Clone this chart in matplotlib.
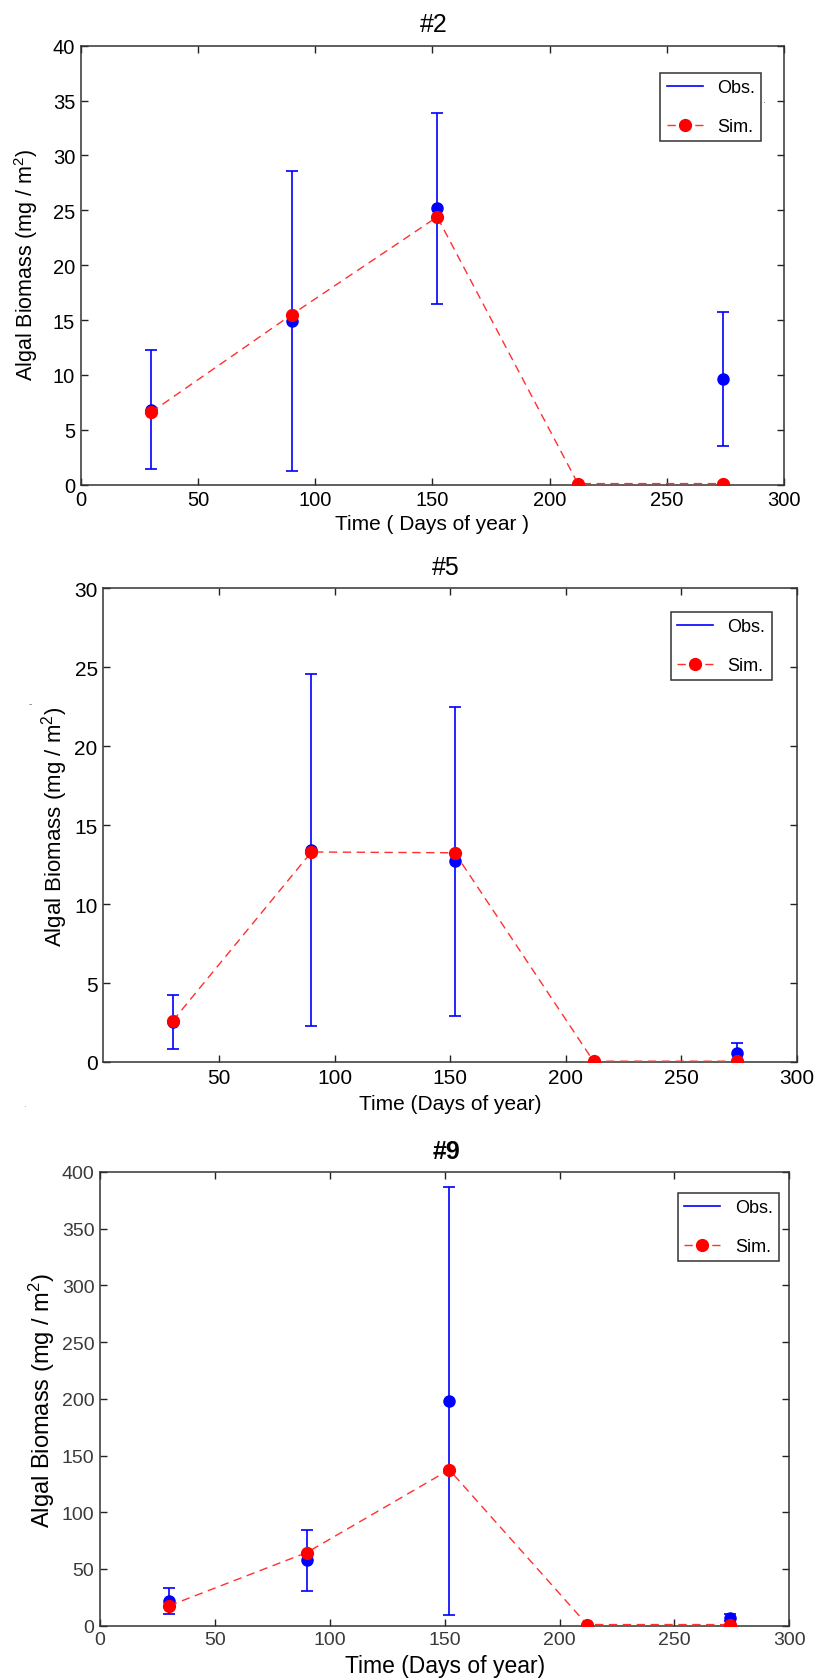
import numpy as np
import matplotlib
matplotlib.use("Agg")
import matplotlib.pyplot as plt
from matplotlib.lines import Line2D

plt.rcParams['font.family'] = ['Liberation Sans', 'DejaVu Sans']
plt.rcParams['mathtext.fontset'] = 'custom'
plt.rcParams['mathtext.rm'] = 'Liberation Sans'
plt.rcParams['mathtext.it'] = 'Liberation Sans:italic'

# ---- data ----
days_obs = [30, 90, 152, 274]
days_sim = [30, 90, 152, 212, 274]

p2_obs = [6.85, 14.9, 25.2, 9.6]
p2_err = [5.4, 13.65, 8.7, 6.1]
p2_sim = [6.6, 15.5, 24.4, 0.1, 0.1]

p5_obs = [2.55, 13.45, 12.7, 0.55]
p5_err = [1.7, 11.15, 9.8, 0.68]
p5_sim = [2.6, 13.3, 13.25, 0.05, 0.05]

p9_obs = [22.0, 57.5, 198.0, 7.0]
p9_err = [11.5, 26.5, 188.5, 3.0]
p9_sim = [17.5, 64.5, 137.5, 1.0, 1.0]

titles = ['#2', '#5', '#9']
xlabels = ['Time ( Days of year )', 'Time (Days of year)', 'Time (Days of year)']
ylabel = 'Algal Biomass (mg / m$^2$)'
legend_labels = ['Obs.', 'Sim.']

W, H = 817, 1681
fig = plt.figure(figsize=(W / 100, H / 100), dpi=100)

def fx(px):
    return px / W

def fy(py):
    return 1 - py / H

panels = [
    dict(box=(80.7, 46.7, 784.3, 485.7), obs=p2_obs, err=p2_err, sim=p2_sim,
         ylim=(0, 40), yticks=np.arange(0, 41, 5), xticks=np.arange(0, 301, 50),
         title_xy=(434, 25), title_bold=False, title_fs=18,
         xl_xy=(432, 525), xl_fs=15, yl_xy=(26, 265), yl_fs=15.5,
         tick_fs=14.5, tick_color='black',
         leg=(0.9673, 0.9378)),
    dict(box=(103.3, 589.3, 797.0, 1063.0), obs=p5_obs, err=p5_err, sim=p5_sim,
         ylim=(0, 30), yticks=np.arange(0, 31, 5), xticks=np.arange(50, 301, 50),
         title_xy=(446, 568), title_bold=False, title_fs=18,
         xl_xy=(450, 1105), xl_fs=15, yl_xy=(55, 827), yl_fs=16,
         tick_fs=15, tick_color='black',
         leg=(0.9635, 0.950)),
    dict(box=(100.0, 1173.0, 789.3, 1626.7), obs=p9_obs, err=p9_err, sim=p9_sim,
         ylim=(0, 400), yticks=np.arange(0, 401, 50), xticks=np.arange(0, 301, 50),
         title_xy=(446, 1152), title_bold=True, title_fs=18,
         xl_xy=(445, 1667), xl_fs=16.5, yl_xy=(42, 1401), yl_fs=17,
         tick_fs=14, tick_color='#3a3a3a',
         leg=(0.985, 0.9537)),
]

for i, p in enumerate(panels):
    l, t, r, b = p['box']
    ax = fig.add_axes([fx(l), fy(b), fx(r) - fx(l), fy(t) - fy(b)])
    ax.errorbar(days_obs, p['obs'], yerr=p['err'], fmt='o', color='blue',
                ecolor='blue', elinewidth=1.2, capsize=4.5, capthick=1.2,
                markersize=8, zorder=3)
    ax.plot(days_sim, p['sim'], linestyle=(0, (6, 4)), color='#ff3030',
            linewidth=1.0, marker='o', markersize=8.5, markerfacecolor='red',
            markeredgecolor='red', zorder=4)
    ax.set_xlim(0, 300)
    ax.set_ylim(*p['ylim'])
    ax.set_xticks(p['xticks'])
    ax.set_yticks(p['yticks'])
    ax.tick_params(direction='in', length=5, width=1.0, top=True, right=True,
                   labelsize=p['tick_fs'], labelcolor=p['tick_color'],
                   color='#222222', pad=4)
    for s in ax.spines.values():
        s.set_color('#333333')
        s.set_linewidth(1.1)
    fig.text(fx(p['title_xy'][0]), fy(p['title_xy'][1]), titles[i],
             ha='center', va='center', fontsize=p['title_fs'],
             fontweight='bold' if p['title_bold'] else 'normal')
    fig.text(fx(p['xl_xy'][0]), fy(p['xl_xy'][1]), xlabels[i],
             ha='center', va='center', fontsize=p['xl_fs'])
    fig.text(fx(p['yl_xy'][0]), fy(p['yl_xy'][1]), ylabel,
             ha='center', va='center', rotation=90, fontsize=p['yl_fs'])
    h_obs = Line2D([], [], color='blue', linewidth=1.2)
    h_sim = Line2D([], [], color='#ff3030', linestyle=(0, (6, 4)), linewidth=1.0,
                   marker='o', markersize=8.5, markerfacecolor='red',
                   markeredgecolor='red')
    leg = ax.legend([h_obs, h_sim], legend_labels, loc='upper right',
                    bbox_to_anchor=p['leg'], borderaxespad=0, fontsize=13,
                    fancybox=False, framealpha=1, edgecolor='#333333',
                    labelspacing=1.2, handlelength=2.0, handletextpad=0.8,
                    borderpad=0.35)
    leg.get_frame().set_linewidth(1.1)

# small stray marks present in the original image
fig.text(fx(765), fy(100), '.', fontsize=8, color='#666666', ha='center', va='center')
fig.text(fx(30), fy(704), '-', fontsize=7, color='#666666', ha='center', va='center')
fig.text(fx(24), fy(1104), '.', fontsize=7, color='#888888', ha='center', va='center')

fig.savefig('out.png', dpi=100)
